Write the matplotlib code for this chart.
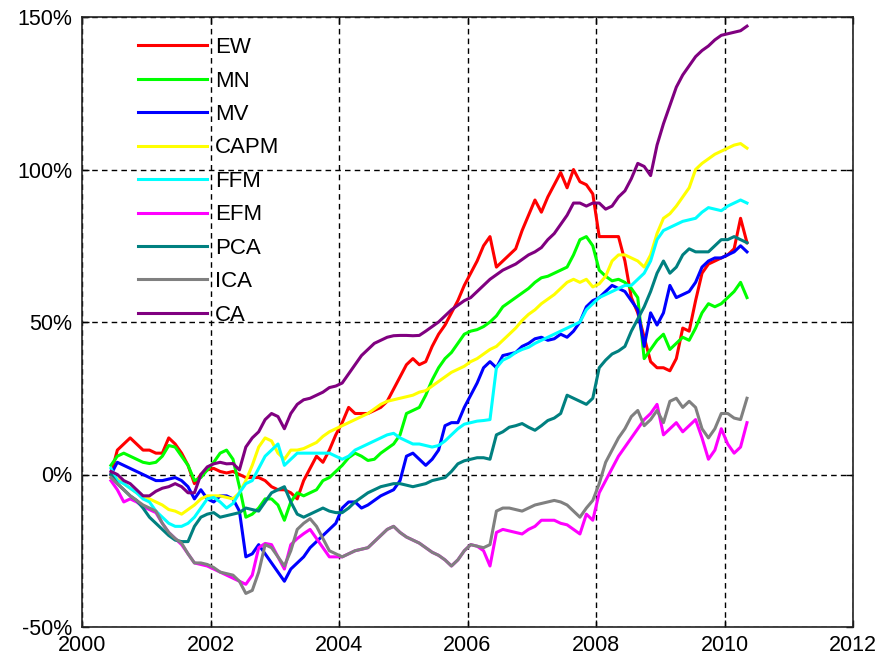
import numpy as np
import matplotlib
matplotlib.use("Agg")
import matplotlib.pyplot as plt
from matplotlib.ticker import FuncFormatter

plt.rcParams['font.family'] = ['Liberation Sans', 'DejaVu Sans']

# sampling dates (fractional years), one value every 0.1 year
years = np.round(2000.45 + 0.1 * np.arange(100), 2)

# cumulative returns in percent
ew = [0, 8, 10, 12, 10, 8, 8, 7, 7, 12,
      10, 7, 3, -3, 0, 1.5, 2, 1, 0.5, 1,
      0, -1, -1, -1, -2, -4, -5, -5, -6, -8,
      -2, 2, 6, 4, 8, 13, 17, 22, 20, 20,
      20, 21, 22, 24, 28, 32, 36, 38, 36, 37,
      42, 46, 49, 53, 57, 62, 66, 70, 75, 78,
      68, 70, 72, 74, 80, 85, 90, 86, 91, 95,
      99, 94, 100, 96, 95, 92, 78, 78, 78, 78,
      70, 58, 53, 45, 37, 35, 35, 34, 38, 48,
      47, 57, 66, 69, 70, 71, 72, 74, 84, 76]
mn = [3, 6, 7, 6, 5, 4, 3.6, 4, 6, 9.5,
      9, 6, 3, -2, -1, 1.5, 4, 7, 8, 5,
      -4, -14, -13, -11, -8, -8, -10, -15, -9, -6,
      -7, -6, -5, -2, -1, 1, 3, 5.5, 7, 6,
      4.6, 5, 7, 8.5, 10, 13, 20, 21, 22, 26,
      31, 35, 38, 40, 43, 46, 47, 47.5, 48.5, 50,
      52, 55, 56.5, 58, 59.5, 61, 63, 64.5, 65, 66,
      67, 68, 72, 77, 78, 75, 67, 65, 63.5, 64,
      63, 61, 58, 38, 41, 44, 46, 41, 43, 45,
      44, 48, 53, 56, 55, 56, 58, 60, 63, 58]
mv = [0, 4, 3, 2, 1, 0, -1, -2, -2, -1.5,
      -1, -2, -4, -8, -5, -8, -9, -7, -7, -8,
      -12, -27, -26, -23, -26, -29, -32, -35, -31, -29,
      -27, -24, -22, -20, -18, -16, -11, -9, -9, -11,
      -10, -8.5, -7, -6, -5, -2, 6, 7, 5, 3,
      5, 8, 16, 17, 17, 22, 26, 30, 35, 37,
      35, 39, 39.5, 40, 42, 43, 44.5, 45, 44, 44.5,
      46, 45, 47, 50, 55, 57, 58, 60, 62, 61,
      60, 57, 54, 42, 53, 49, 53, 62, 58, 59,
      60, 63, 68, 70, 71, 71, 72, 73, 75, 73]
capm = [-1, -1.5, -3, -4.5, -6, -7, -8, -9, -10, -11.5,
        -12, -13, -11.5, -10, -8, -7, -7, -7, -7.5, -8,
        -6, -2, 3, 9, 12, 11, 7, 5, 8, 8,
        8.5, 9.5, 10.5, 12.5, 14, 15, 16, 17, 18, 19,
        20, 21.5, 23, 24, 24.5, 25, 25.5, 26, 27, 27.5,
        29, 30.5, 32, 33.5, 34.5, 35.5, 37, 38, 39.5, 41,
        42, 44, 46, 48, 50.5, 52.5, 54, 56, 57.5, 59,
        61, 63, 64, 63, 64, 61.5, 62.5, 65, 70, 72,
        72, 71, 70, 68, 72, 79, 84, 85.5, 88, 91,
        94, 100, 102, 103.5, 105, 106, 107, 108, 108.5, 107]
ffm = [2, -2, -3, -4.5, -6, -8, -9, -12, -14, -16,
       -17, -17, -16, -14, -11, -8, -7.5, -9, -11, -9.5,
       -6, -3, -2, 2, 6, 8, 10, 3, 5, 7,
       7, 7, 7, 7, 7, 6, 5, 6, 8, 9,
       10, 11, 12, 13, 13.5, 12, 11, 10, 10, 9.5,
       9, 9.5, 11, 13, 15, 16.5, 17, 17.5, 17.7, 18,
       35, 37.5, 38.5, 40, 41, 41.7, 43, 44, 45, 46,
       47, 48, 49, 50, 54, 56, 58, 59, 60, 61,
       62, 62, 64, 66, 70, 77, 80, 81, 82, 83,
       83.5, 84, 86, 87.5, 87, 86.5, 88, 89, 90, 89]
efm = [-2, -5, -9, -8, -9, -10.5, -11.5, -12.5, -16, -19,
       -21, -23, -26, -29, -29.5, -30, -31, -32, -33, -34,
       -35, -36, -33, -24, -22.6, -23, -27, -31, -23, -21,
       -19.4, -18, -21, -24, -27, -27, -27, -26, -25, -24.5,
       -24, -22, -20, -18, -17, -19, -20.5, -21.5, -22.5, -24,
       -25.5, -26.5, -28, -30, -28, -25, -23, -23.5, -25, -30,
       -19, -18, -18.5, -19, -19.5, -18, -17, -15, -15, -15,
       -16, -16.5, -18, -19.5, -13, -15, -6, -2, 2, 6,
       9, 12, 15, 18, 20, 23, 13, 15, 17, 14,
       16, 18, 12, 5, 8, 15, 10, 7, 9, 17]
pca = [0, -3, -5, -7, -8.5, -11, -14, -16, -18, -20,
       -21.5, -22, -22, -17, -14, -13, -12.5, -14, -13.5, -13,
       -12.5, -11, -11.5, -12, -9, -6, -5, -4, -9, -13,
       -14, -13, -12, -11, -12, -12.5, -12.5, -11, -9, -7.5,
       -6, -5, -4, -3.5, -3, -3, -3.5, -4, -3.5, -3,
       -2, -1.5, -1, 1, 3.5, 4.5, 5, 5.5, 5.5, 5,
       13, 14, 15.5, 16, 16.7, 15.5, 14.5, 16, 17.7, 18.5,
       20, 26, 25, 24, 23, 25, 35, 37.5, 39.5, 40.5,
       42, 47, 51, 55, 60, 66, 70, 66, 68, 72,
       74, 73, 73, 73, 75, 77, 77, 78, 77, 76]
ica = [-1, -3, -5, -7, -8.5, -10, -11, -12, -16, -19,
       -21, -22.5, -26, -29, -29, -29.5, -30.5, -32, -32.5, -33,
       -35, -39, -38, -32, -23, -24, -27, -30, -25, -18,
       -16, -14.5, -17, -21, -25, -26, -27, -26, -25, -24.5,
       -24, -22, -20, -18, -17, -19, -20.5, -21.5, -22.5, -24,
       -25.5, -26.5, -28, -30, -28, -25, -23, -23.5, -24, -23,
       -12, -11, -11, -11.5, -12, -11, -10, -9.5, -9, -8.5,
       -9, -10, -12, -14, -11, -8.5, -3, 4, 8, 12,
       15, 19, 21, 16, 18, 21, 17, 24, 25, 22,
       24, 22, 15, 12, 15, 20, 20, 18.5, 18, 25]
ca = [1, 0, -2, -3, -5, -7, -7, -5.5, -4.5, -4,
      -3, -4, -6, -6, 0, 2.5, 3.5, 4, 3.5, 3.6,
      1.5, 9, 12, 14, 18, 20, 19, 15, 20, 23,
      24.5, 25, 26, 27, 28.5, 29, 30, 33, 36, 39,
      41, 43, 44, 45, 45.5, 45.6, 45.6, 45.5, 45.6, 47,
      48.5, 50, 52, 54, 55.5, 57, 58, 60, 62, 64,
      65.5, 67, 68, 69, 70.5, 72, 73, 74.4, 77, 79,
      82, 85, 89, 89, 88, 89, 89, 87, 88, 91,
      93, 97, 102, 101, 98, 108, 115, 121, 127, 131,
      134, 137, 139, 140.5, 142.5, 144, 144.5, 145, 145.5, 147]

labels = ["EW", "MN", "MV", "CAPM", "FFM", "EFM", "PCA", "ICA", "CA"]
series = [ew, mn, mv, capm, ffm, efm, pca, ica, ca]
colors = ["#ff0000", "#00ff00", "#0000ff", "#ffff00", "#00ffff",
          "#ff00ff", "#008080", "#808080", "#800080"]

W, H = 876, 659
fig = plt.figure(figsize=(W / 100, H / 100), dpi=100)
ax = fig.add_axes([82 / W, 1 - 627 / H, (853 - 82) / W, (627 - 17) / H])

for vals, lab, col in zip(series, labels, colors):
    ax.plot(years, np.asarray(vals) / 100.0, color=col, lw=2.2, label=lab)

ax.set_xlim(2000, 2012)
ax.set_ylim(-0.5, 1.5)
ax.set_xticks(np.arange(2000, 2013, 2))
ax.set_yticks([-0.5, 0, 0.5, 1.0, 1.5])
ax.yaxis.set_major_formatter(FuncFormatter(lambda v, p: f"{v * 100:.0f}%"))

ax.grid(True, color="black", linestyle=(0, (4, 3)), lw=1)
ax.tick_params(direction="in", top=True, right=True, length=5, width=1,
               labelsize=15.5, colors="black")
ax.tick_params(axis="x", pad=6)
ax.tick_params(axis="y", pad=7)
for s in ax.spines.values():
    s.set_linewidth(1.2)
    s.set_color("#222222")

ax.legend(loc="upper left", bbox_to_anchor=(0.0726, 0.967), frameon=False,
          fontsize=16, handlelength=3.1, handletextpad=0.35, labelspacing=0.56,
          borderpad=0, borderaxespad=0)

fig.savefig("out.png", dpi=100)
